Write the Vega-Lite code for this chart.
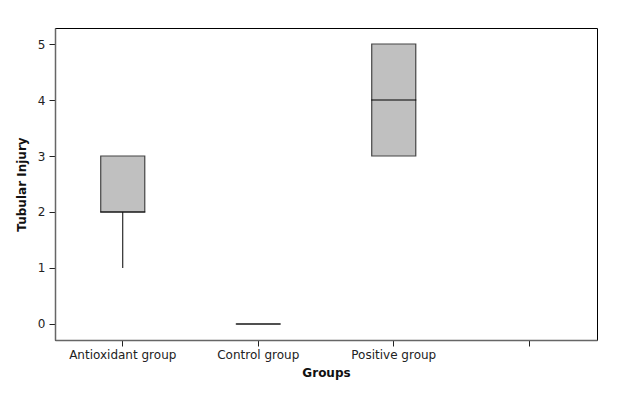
{
  "$schema": "https://vega.github.io/schema/vega-lite/v6.json",
  "width": 542,
  "height": 312,
  "autosize": "none",
  "padding": {"left": 55, "top": 28, "right": 29, "bottom": 55},
  "background": "white",
  "config": {
    "font": "DejaVu Sans",
    "view": {"stroke": "#000000", "strokeWidth": 1},
    "axis": {
      "labelFont": "DejaVu Sans",
      "titleFont": "DejaVu Sans",
      "labelFontSize": 12,
      "titleFontSize": 12,
      "labelColor": "#222222",
      "titleColor": "#111111",
      "titleFontWeight": "bold",
      "domainColor": "#666666",
      "domainWidth": 1.5,
      "tickColor": "#222222",
      "tickSize": 6,
      "grid": false
    }
  },
  "data": {
    "values": [
      {"group": "Antioxidant group", "min": 1, "q1": 2, "median": 2, "q3": 3, "max": 3},
      {"group": "Control group", "min": 0, "q1": 0, "median": 0, "q3": 0, "max": 0},
      {"group": "Positive group", "min": 3, "q1": 3, "median": 4, "q3": 5, "max": 5}
    ]
  },
  "encoding": {
    "x": {
      "field": "group",
      "type": "nominal",
      "scale": {"domain": ["Antioxidant group", "Control group", "Positive group", " "], "paddingInner": 0.675, "paddingOuter": 0.3375},
      "axis": {"title": "Groups", "labelAngle": 0, "labelPadding": 3, "titlePadding": 7}
    }
  },
  "layer": [
    {
      "mark": {"type": "rule", "color": "#000000", "strokeWidth": 1},
      "encoding": {
        "y": {"field": "min", "type": "quantitative", "scale": {"domain": [-0.286, 5.286], "nice": false, "zero": false},
          "axis": {"title": "Tubular Injury", "values": [0, 1, 2, 3, 4, 5], "format": "d", "labelPadding": 4, "titlePadding": 9}},
        "y2": {"field": "max"}
      }
    },
    {
      "mark": {"type": "bar", "fill": "#c0c0c0", "stroke": "#444444", "strokeWidth": 1.2},
      "encoding": {
        "y": {"field": "q1", "type": "quantitative"},
        "y2": {"field": "q3"}
      }
    },
    {
      "mark": {"type": "tick", "color": "#000000", "opacity": 1, "thickness": 1, "size": 45},
      "encoding": {
        "y": {"field": "median", "type": "quantitative"}
      }
    }
  ]
}
